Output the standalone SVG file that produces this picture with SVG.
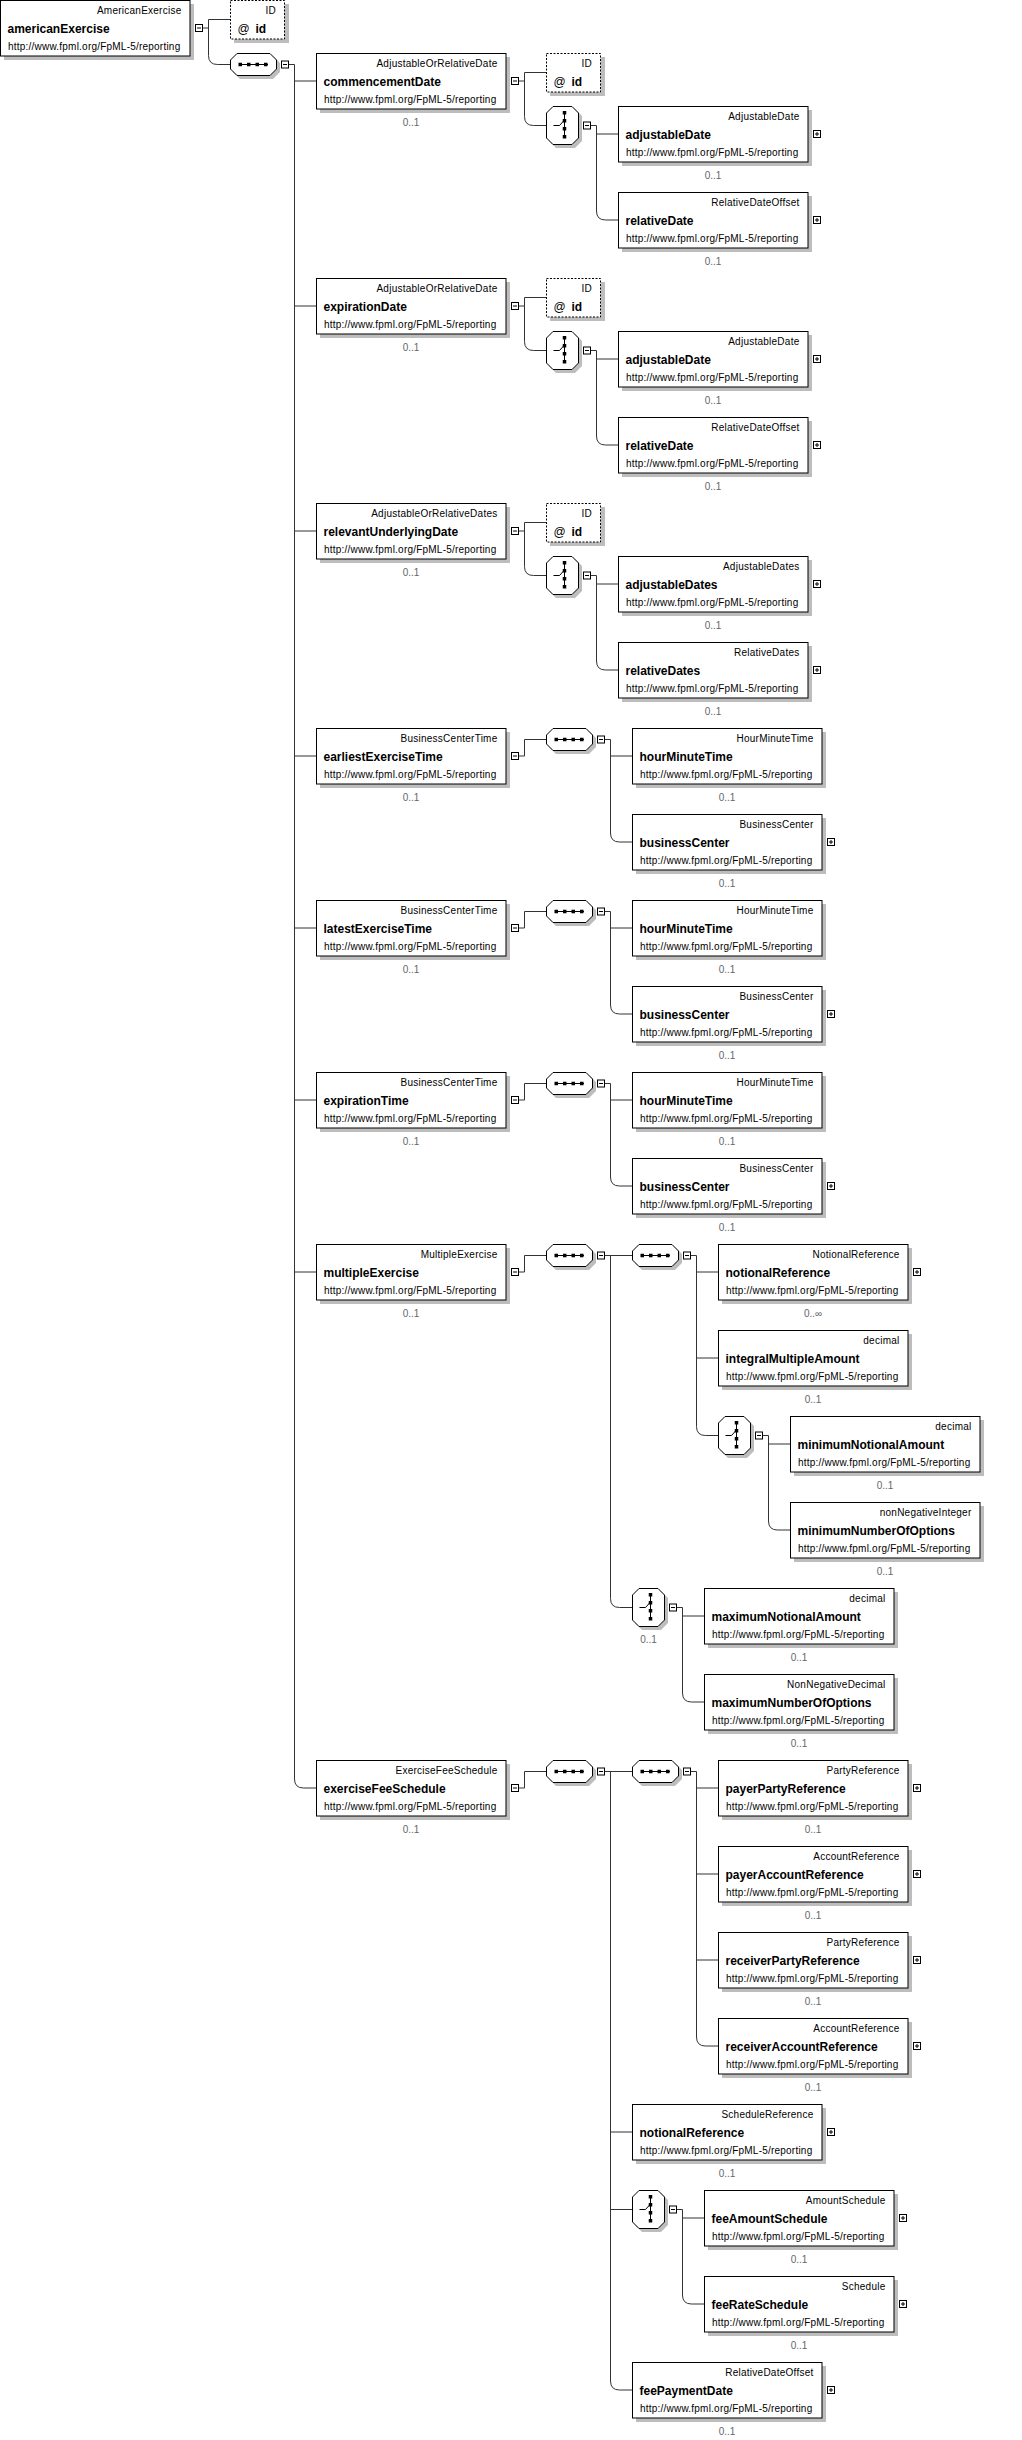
<svg xmlns="http://www.w3.org/2000/svg" xmlns:xlink="http://www.w3.org/1999/xlink" width="1022" height="2440" viewBox="0 0 1022 2440">
<style>
.t{font-family:"Liberation Sans",Arial,sans-serif;font-size:10px;letter-spacing:.25px;text-anchor:end;fill:#000}
.n{font-family:"Liberation Sans",Arial,sans-serif;font-size:12px;font-weight:bold;fill:#000}
.a{font-family:"Liberation Sans",Arial,sans-serif;font-size:12px;fill:#000}
.u{font-family:"Liberation Sans",Arial,sans-serif;font-size:10px;letter-spacing:.22px;fill:#000}
.c{font-family:"Liberation Sans",Arial,sans-serif;font-size:10px;fill:#666;text-anchor:middle}
.shd{fill:#bdbdbd}
.box{fill:#fff;stroke:#000;stroke-width:1}
.abox{fill:#fff;stroke:#000;stroke-width:1;stroke-dasharray:2 1.5}
.ln{fill:none;stroke:#000;stroke-width:1}
.dot{fill:#000}
.con path{fill:none;stroke:#333;stroke-width:1}
</style>
<defs>
<g id="el"><rect class="shd" x="4" y="4" width="190" height="56"/><rect class="box" x="0.5" y="0.5" width="189.5" height="55.5"/></g>
<g id="attrbox"><rect class="shd" x="4" y="4" width="55" height="39"/><rect class="abox" x="0.5" y="0.5" width="54" height="38.5"/></g>
<g id="seq">
<polygon class="shd" points="10,3 43,3 50,10 50,19 43,26 10,26 3,19 3,10"/>
<polygon class="box" points="7,0.5 40,0.5 46.5,7 46.5,16 40,22.5 7,22.5 0.5,16 0.5,7"/>
<path class="ln" d="M9,11.5H38"/>
<rect class="dot" x="8.5" y="9.75" width="3.5" height="3.5"/><rect class="dot" x="17" y="9.75" width="3.5" height="3.5"/><rect class="dot" x="25.5" y="9.75" width="3.5" height="3.5"/><rect class="dot" x="34" y="9.75" width="3.5" height="3.5"/>
</g>
<g id="choice">
<polygon class="shd" points="10,3 29,3 36,10 36,35 29,42 10,42 3,35 3,10"/>
<polygon class="box" points="7,0.5 26,0.5 32.5,7 32.5,32 26,38.5 7,38.5 0.5,32 0.5,7"/>
<path class="ln" d="M18.5,6V31M7.5,19.5H13.5L18,14.5"/>
<rect class="dot" x="16.75" y="5" width="3.5" height="3.5"/><rect class="dot" x="16.75" y="13" width="3.5" height="3.5"/><rect class="dot" x="16.75" y="21" width="3.5" height="3.5"/><rect class="dot" x="16.75" y="29" width="3.5" height="3.5"/>
</g>
<g id="minus"><rect x="0.5" y="0.5" width="7" height="7" fill="#fff" stroke="#000"/><path d="M2,4H6" stroke="#000"/></g>
<g id="plus"><rect x="0.5" y="0.5" width="7" height="7" fill="#fff" stroke="#000"/><path d="M2,4H6M4,2V6" stroke="#000"/></g>
</defs>
<rect width="1022" height="2440" fill="#fff"/>

<g class="con" id="connectors">
<path d="M203,28H208.5M208.5,19.5H230M208.5,19.5V55.5Q208.5,64.5 217.5,64.5H230"/>
<path d="M289,64.5H294.5V1779Q294.5,1788 303.5,1788H316M294.5,81H316M294.5,306H316M294.5,531H316M294.5,756H316M294.5,928H316M294.5,1100H316M294.5,1272H316"/>
<path d="M519,81H524.5M524.5,72.5H546M524.5,72.5V116.5Q524.5,125.5 533.5,125.5H546"/>
<path d="M591,125.5H596.5V211Q596.5,220 605.5,220H618M596.5,134H618"/>
<path d="M519,306H524.5M524.5,297.5H546M524.5,297.5V341.5Q524.5,350.5 533.5,350.5H546"/>
<path d="M591,350.5H596.5V436Q596.5,445 605.5,445H618M596.5,359H618"/>
<path d="M519,531H524.5M524.5,522.5H546M524.5,522.5V566.5Q524.5,575.5 533.5,575.5H546"/>
<path d="M591,575.5H596.5V661Q596.5,670 605.5,670H618M596.5,584H618"/>
<path d="M519,756H524.5V739.5H546"/>
<path d="M605,739.5H610.5V833Q610.5,842 619.5,842H632M610.5,756H632"/>
<path d="M519,928H524.5V911.5H546"/>
<path d="M605,911.5H610.5V1005Q610.5,1014 619.5,1014H632M610.5,928H632"/>
<path d="M519,1100H524.5V1083.5H546"/>
<path d="M605,1083.5H610.5V1177Q610.5,1186 619.5,1186H632M610.5,1100H632"/>
<path d="M519,1272H524.5V1255.5H546"/>
<path d="M605,1255.5H632M610.5,1255.5V1598.5Q610.5,1607.5 619.5,1607.5H632"/>
<path d="M691,1255.5H696.5V1426.5Q696.5,1435.5 705.5,1435.5H718M696.5,1272H718M696.5,1358H718"/>
<path d="M763,1435.5H768.5V1521Q768.5,1530 777.5,1530H790M768.5,1444H790"/>
<path d="M677,1607.5H682.5V1693Q682.5,1702 691.5,1702H704M682.5,1616H704"/>
<path d="M519,1788H524.5V1771.5H546"/>
<path d="M605,1771.5H632M610.5,1771.5V2381Q610.5,2390 619.5,2390H632M610.5,2132H632M610.5,2209.5H632"/>
<path d="M691,1771.5H696.5V2037Q696.5,2046 705.5,2046H718M696.5,1788H718M696.5,1874H718M696.5,1960H718"/>
<path d="M677,2209.5H682.5V2295Q682.5,2304 691.5,2304H704M682.5,2218H704"/>
</g>

<g id="n-americanExercise" transform="translate(0,0)"><use href="#el"/><text class="t" x="181.5" y="14">AmericanExercise</text><text class="n" x="7.5" y="32.5">americanExercise</text><text class="u" x="8" y="49.5">http://www.fpml.org/FpML-5/reporting</text><use href="#minus" x="195" y="24"/></g>
<g id="n-americanExercise-id" transform="translate(230,0)"><use href="#attrbox"/><text class="t" x="46" y="14">ID</text><text class="a" x="7.5" y="33">@</text><text class="n" x="25.5" y="33">id</text></g>
<g id="n-seq-main" transform="translate(230,53)"><use href="#seq"/><use href="#minus" x="51" y="7.5"/></g>

<g id="n-commencementDate" transform="translate(316,53)"><use href="#el"/><text class="t" x="181.5" y="14">AdjustableOrRelativeDate</text><text class="n" x="7.5" y="32.5">commencementDate</text><text class="u" x="8" y="49.5">http://www.fpml.org/FpML-5/reporting</text><use href="#minus" x="195" y="24"/><text class="c" x="95" y="73">0..1</text></g>
<g id="n-commencementDate-id" transform="translate(546,53)"><use href="#attrbox"/><text class="t" x="46" y="14">ID</text><text class="a" x="7.5" y="33">@</text><text class="n" x="25.5" y="33">id</text></g>
<g id="n-commencementDate-choice" transform="translate(546,106)"><use href="#choice"/><use href="#minus" x="37" y="15.5"/></g>
<g id="n-commencementDate-adjustableDate" transform="translate(618,106)"><use href="#el"/><text class="t" x="181.5" y="14">AdjustableDate</text><text class="n" x="7.5" y="32.5">adjustableDate</text><text class="u" x="8" y="49.5">http://www.fpml.org/FpML-5/reporting</text><use href="#plus" x="195" y="24"/><text class="c" x="95" y="73">0..1</text></g>
<g id="n-commencementDate-relativeDate" transform="translate(618,192)"><use href="#el"/><text class="t" x="181.5" y="14">RelativeDateOffset</text><text class="n" x="7.5" y="32.5">relativeDate</text><text class="u" x="8" y="49.5">http://www.fpml.org/FpML-5/reporting</text><use href="#plus" x="195" y="24"/><text class="c" x="95" y="73">0..1</text></g>

<g id="n-expirationDate" transform="translate(316,278)"><use href="#el"/><text class="t" x="181.5" y="14">AdjustableOrRelativeDate</text><text class="n" x="7.5" y="32.5">expirationDate</text><text class="u" x="8" y="49.5">http://www.fpml.org/FpML-5/reporting</text><use href="#minus" x="195" y="24"/><text class="c" x="95" y="73">0..1</text></g>
<g id="n-expirationDate-id" transform="translate(546,278)"><use href="#attrbox"/><text class="t" x="46" y="14">ID</text><text class="a" x="7.5" y="33">@</text><text class="n" x="25.5" y="33">id</text></g>
<g id="n-expirationDate-choice" transform="translate(546,331)"><use href="#choice"/><use href="#minus" x="37" y="15.5"/></g>
<g id="n-expirationDate-adjustableDate" transform="translate(618,331)"><use href="#el"/><text class="t" x="181.5" y="14">AdjustableDate</text><text class="n" x="7.5" y="32.5">adjustableDate</text><text class="u" x="8" y="49.5">http://www.fpml.org/FpML-5/reporting</text><use href="#plus" x="195" y="24"/><text class="c" x="95" y="73">0..1</text></g>
<g id="n-expirationDate-relativeDate" transform="translate(618,417)"><use href="#el"/><text class="t" x="181.5" y="14">RelativeDateOffset</text><text class="n" x="7.5" y="32.5">relativeDate</text><text class="u" x="8" y="49.5">http://www.fpml.org/FpML-5/reporting</text><use href="#plus" x="195" y="24"/><text class="c" x="95" y="73">0..1</text></g>

<g id="n-relevantUnderlyingDate" transform="translate(316,503)"><use href="#el"/><text class="t" x="181.5" y="14">AdjustableOrRelativeDates</text><text class="n" x="7.5" y="32.5">relevantUnderlyingDate</text><text class="u" x="8" y="49.5">http://www.fpml.org/FpML-5/reporting</text><use href="#minus" x="195" y="24"/><text class="c" x="95" y="73">0..1</text></g>
<g id="n-relevantUnderlyingDate-id" transform="translate(546,503)"><use href="#attrbox"/><text class="t" x="46" y="14">ID</text><text class="a" x="7.5" y="33">@</text><text class="n" x="25.5" y="33">id</text></g>
<g id="n-relevantUnderlyingDate-choice" transform="translate(546,556)"><use href="#choice"/><use href="#minus" x="37" y="15.5"/></g>
<g id="n-relevantUnderlyingDate-adjustableDates" transform="translate(618,556)"><use href="#el"/><text class="t" x="181.5" y="14">AdjustableDates</text><text class="n" x="7.5" y="32.5">adjustableDates</text><text class="u" x="8" y="49.5">http://www.fpml.org/FpML-5/reporting</text><use href="#plus" x="195" y="24"/><text class="c" x="95" y="73">0..1</text></g>
<g id="n-relevantUnderlyingDate-relativeDates" transform="translate(618,642)"><use href="#el"/><text class="t" x="181.5" y="14">RelativeDates</text><text class="n" x="7.5" y="32.5">relativeDates</text><text class="u" x="8" y="49.5">http://www.fpml.org/FpML-5/reporting</text><use href="#plus" x="195" y="24"/><text class="c" x="95" y="73">0..1</text></g>

<g id="n-earliestExerciseTime" transform="translate(316,728)"><use href="#el"/><text class="t" x="181.5" y="14">BusinessCenterTime</text><text class="n" x="7.5" y="32.5">earliestExerciseTime</text><text class="u" x="8" y="49.5">http://www.fpml.org/FpML-5/reporting</text><use href="#minus" x="195" y="24"/><text class="c" x="95" y="73">0..1</text></g>
<g id="n-earliestExerciseTime-seq" transform="translate(546,728)"><use href="#seq"/><use href="#minus" x="51" y="7.5"/></g>
<g id="n-earliestExerciseTime-hourMinuteTime" transform="translate(632,728)"><use href="#el"/><text class="t" x="181.5" y="14">HourMinuteTime</text><text class="n" x="7.5" y="32.5">hourMinuteTime</text><text class="u" x="8" y="49.5">http://www.fpml.org/FpML-5/reporting</text><text class="c" x="95" y="73">0..1</text></g>
<g id="n-earliestExerciseTime-businessCenter" transform="translate(632,814)"><use href="#el"/><text class="t" x="181.5" y="14">BusinessCenter</text><text class="n" x="7.5" y="32.5">businessCenter</text><text class="u" x="8" y="49.5">http://www.fpml.org/FpML-5/reporting</text><use href="#plus" x="195" y="24"/><text class="c" x="95" y="73">0..1</text></g>

<g id="n-latestExerciseTime" transform="translate(316,900)"><use href="#el"/><text class="t" x="181.5" y="14">BusinessCenterTime</text><text class="n" x="7.5" y="32.5">latestExerciseTime</text><text class="u" x="8" y="49.5">http://www.fpml.org/FpML-5/reporting</text><use href="#minus" x="195" y="24"/><text class="c" x="95" y="73">0..1</text></g>
<g id="n-latestExerciseTime-seq" transform="translate(546,900)"><use href="#seq"/><use href="#minus" x="51" y="7.5"/></g>
<g id="n-latestExerciseTime-hourMinuteTime" transform="translate(632,900)"><use href="#el"/><text class="t" x="181.5" y="14">HourMinuteTime</text><text class="n" x="7.5" y="32.5">hourMinuteTime</text><text class="u" x="8" y="49.5">http://www.fpml.org/FpML-5/reporting</text><text class="c" x="95" y="73">0..1</text></g>
<g id="n-latestExerciseTime-businessCenter" transform="translate(632,986)"><use href="#el"/><text class="t" x="181.5" y="14">BusinessCenter</text><text class="n" x="7.5" y="32.5">businessCenter</text><text class="u" x="8" y="49.5">http://www.fpml.org/FpML-5/reporting</text><use href="#plus" x="195" y="24"/><text class="c" x="95" y="73">0..1</text></g>

<g id="n-expirationTime" transform="translate(316,1072)"><use href="#el"/><text class="t" x="181.5" y="14">BusinessCenterTime</text><text class="n" x="7.5" y="32.5">expirationTime</text><text class="u" x="8" y="49.5">http://www.fpml.org/FpML-5/reporting</text><use href="#minus" x="195" y="24"/><text class="c" x="95" y="73">0..1</text></g>
<g id="n-expirationTime-seq" transform="translate(546,1072)"><use href="#seq"/><use href="#minus" x="51" y="7.5"/></g>
<g id="n-expirationTime-hourMinuteTime" transform="translate(632,1072)"><use href="#el"/><text class="t" x="181.5" y="14">HourMinuteTime</text><text class="n" x="7.5" y="32.5">hourMinuteTime</text><text class="u" x="8" y="49.5">http://www.fpml.org/FpML-5/reporting</text><text class="c" x="95" y="73">0..1</text></g>
<g id="n-expirationTime-businessCenter" transform="translate(632,1158)"><use href="#el"/><text class="t" x="181.5" y="14">BusinessCenter</text><text class="n" x="7.5" y="32.5">businessCenter</text><text class="u" x="8" y="49.5">http://www.fpml.org/FpML-5/reporting</text><use href="#plus" x="195" y="24"/><text class="c" x="95" y="73">0..1</text></g>

<g id="n-multipleExercise" transform="translate(316,1244)"><use href="#el"/><text class="t" x="181.5" y="14">MultipleExercise</text><text class="n" x="7.5" y="32.5">multipleExercise</text><text class="u" x="8" y="49.5">http://www.fpml.org/FpML-5/reporting</text><use href="#minus" x="195" y="24"/><text class="c" x="95" y="73">0..1</text></g>
<g id="n-multipleExercise-seq1" transform="translate(546,1244)"><use href="#seq"/><use href="#minus" x="51" y="7.5"/></g>
<g id="n-multipleExercise-seq2" transform="translate(632,1244)"><use href="#seq"/><use href="#minus" x="51" y="7.5"/></g>
<g id="n-notionalReference" transform="translate(718,1244)"><use href="#el"/><text class="t" x="181.5" y="14">NotionalReference</text><text class="n" x="7.5" y="32.5">notionalReference</text><text class="u" x="8" y="49.5">http://www.fpml.org/FpML-5/reporting</text><use href="#plus" x="195" y="24"/><text class="c" x="95" y="73">0..∞</text></g>
<g id="n-integralMultipleAmount" transform="translate(718,1330)"><use href="#el"/><text class="t" x="181.5" y="14">decimal</text><text class="n" x="7.5" y="32.5">integralMultipleAmount</text><text class="u" x="8" y="49.5">http://www.fpml.org/FpML-5/reporting</text><text class="c" x="95" y="73">0..1</text></g>
<g id="n-multipleExercise-choiceMin" transform="translate(718,1416)"><use href="#choice"/><use href="#minus" x="37" y="15.5"/></g>
<g id="n-minimumNotionalAmount" transform="translate(790,1416)"><use href="#el"/><text class="t" x="181.5" y="14">decimal</text><text class="n" x="7.5" y="32.5">minimumNotionalAmount</text><text class="u" x="8" y="49.5">http://www.fpml.org/FpML-5/reporting</text><text class="c" x="95" y="73">0..1</text></g>
<g id="n-minimumNumberOfOptions" transform="translate(790,1502)"><use href="#el"/><text class="t" x="181.5" y="14">nonNegativeInteger</text><text class="n" x="7.5" y="32.5">minimumNumberOfOptions</text><text class="u" x="8" y="49.5">http://www.fpml.org/FpML-5/reporting</text><text class="c" x="95" y="73">0..1</text></g>
<g id="n-multipleExercise-choiceMax" transform="translate(632,1588)"><use href="#choice"/><use href="#minus" x="37" y="15.5"/><text class="c" x="16.5" y="55">0..1</text></g>
<g id="n-maximumNotionalAmount" transform="translate(704,1588)"><use href="#el"/><text class="t" x="181.5" y="14">decimal</text><text class="n" x="7.5" y="32.5">maximumNotionalAmount</text><text class="u" x="8" y="49.5">http://www.fpml.org/FpML-5/reporting</text><text class="c" x="95" y="73">0..1</text></g>
<g id="n-maximumNumberOfOptions" transform="translate(704,1674)"><use href="#el"/><text class="t" x="181.5" y="14">NonNegativeDecimal</text><text class="n" x="7.5" y="32.5">maximumNumberOfOptions</text><text class="u" x="8" y="49.5">http://www.fpml.org/FpML-5/reporting</text><text class="c" x="95" y="73">0..1</text></g>

<g id="n-exerciseFeeSchedule" transform="translate(316,1760)"><use href="#el"/><text class="t" x="181.5" y="14">ExerciseFeeSchedule</text><text class="n" x="7.5" y="32.5">exerciseFeeSchedule</text><text class="u" x="8" y="49.5">http://www.fpml.org/FpML-5/reporting</text><use href="#minus" x="195" y="24"/><text class="c" x="95" y="73">0..1</text></g>
<g id="n-exerciseFeeSchedule-seq1" transform="translate(546,1760)"><use href="#seq"/><use href="#minus" x="51" y="7.5"/></g>
<g id="n-exerciseFeeSchedule-seq2" transform="translate(632,1760)"><use href="#seq"/><use href="#minus" x="51" y="7.5"/></g>
<g id="n-payerPartyReference" transform="translate(718,1760)"><use href="#el"/><text class="t" x="181.5" y="14">PartyReference</text><text class="n" x="7.5" y="32.5">payerPartyReference</text><text class="u" x="8" y="49.5">http://www.fpml.org/FpML-5/reporting</text><use href="#plus" x="195" y="24"/><text class="c" x="95" y="73">0..1</text></g>
<g id="n-payerAccountReference" transform="translate(718,1846)"><use href="#el"/><text class="t" x="181.5" y="14">AccountReference</text><text class="n" x="7.5" y="32.5">payerAccountReference</text><text class="u" x="8" y="49.5">http://www.fpml.org/FpML-5/reporting</text><use href="#plus" x="195" y="24"/><text class="c" x="95" y="73">0..1</text></g>
<g id="n-receiverPartyReference" transform="translate(718,1932)"><use href="#el"/><text class="t" x="181.5" y="14">PartyReference</text><text class="n" x="7.5" y="32.5">receiverPartyReference</text><text class="u" x="8" y="49.5">http://www.fpml.org/FpML-5/reporting</text><use href="#plus" x="195" y="24"/><text class="c" x="95" y="73">0..1</text></g>
<g id="n-receiverAccountReference" transform="translate(718,2018)"><use href="#el"/><text class="t" x="181.5" y="14">AccountReference</text><text class="n" x="7.5" y="32.5">receiverAccountReference</text><text class="u" x="8" y="49.5">http://www.fpml.org/FpML-5/reporting</text><use href="#plus" x="195" y="24"/><text class="c" x="95" y="73">0..1</text></g>
<g id="n-fee-notionalReference" transform="translate(632,2104)"><use href="#el"/><text class="t" x="181.5" y="14">ScheduleReference</text><text class="n" x="7.5" y="32.5">notionalReference</text><text class="u" x="8" y="49.5">http://www.fpml.org/FpML-5/reporting</text><use href="#plus" x="195" y="24"/><text class="c" x="95" y="73">0..1</text></g>
<g id="n-exerciseFeeSchedule-choice" transform="translate(632,2190)"><use href="#choice"/><use href="#minus" x="37" y="15.5"/></g>
<g id="n-feeAmountSchedule" transform="translate(704,2190)"><use href="#el"/><text class="t" x="181.5" y="14">AmountSchedule</text><text class="n" x="7.5" y="32.5">feeAmountSchedule</text><text class="u" x="8" y="49.5">http://www.fpml.org/FpML-5/reporting</text><use href="#plus" x="195" y="24"/><text class="c" x="95" y="73">0..1</text></g>
<g id="n-feeRateSchedule" transform="translate(704,2276)"><use href="#el"/><text class="t" x="181.5" y="14">Schedule</text><text class="n" x="7.5" y="32.5">feeRateSchedule</text><text class="u" x="8" y="49.5">http://www.fpml.org/FpML-5/reporting</text><use href="#plus" x="195" y="24"/><text class="c" x="95" y="73">0..1</text></g>
<g id="n-feePaymentDate" transform="translate(632,2362)"><use href="#el"/><text class="t" x="181.5" y="14">RelativeDateOffset</text><text class="n" x="7.5" y="32.5">feePaymentDate</text><text class="u" x="8" y="49.5">http://www.fpml.org/FpML-5/reporting</text><use href="#plus" x="195" y="24"/><text class="c" x="95" y="73">0..1</text></g>
</svg>
